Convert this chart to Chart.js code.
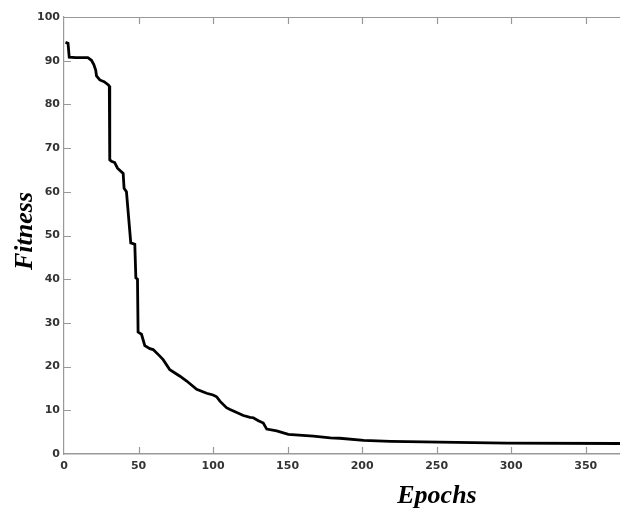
<!DOCTYPE html>
<html>
<head>
<meta charset="utf-8">
<script src="https://cdn.jsdelivr.net/npm/chart.js@4.4.1/dist/chart.umd.min.js"></script>
<style>
  html, body { margin: 0; padding: 0; background: #fff; }
  #wrap { width: 620px; height: 511px; position: relative; }
</style>
</head>
<body>
<div id="wrap"><canvas id="c" width="620" height="511"></canvas></div>
<script>
// Best fitness per training epoch (vertices of the convergence curve)
const epochs = [1, 2.7, 3.5, 8, 16, 18.4, 20, 21.3, 21.8, 24, 26.9, 29.6, 30.4, 30.7, 31.8,
  34, 35.9, 39.7, 40.3, 41.9, 44.8, 47.5, 48.2, 49.3, 49.7, 52, 54.2, 57.6, 59.8, 64.3,
  66.5, 71, 77.8, 82.3, 89, 95.7, 100, 102.4, 104.6, 109, 111.4, 115.9, 120.3, 124.8, 127,
  130.4, 133.7, 136, 142.7, 150.5, 167.3, 178.6, 185, 201, 219, 252, 297, 373];
const fitness = [94.2, 94.0, 90.8, 90.7, 90.7, 90.1, 89.1, 87.8, 86.5, 85.6, 85.2, 84.5, 84.2, 67.3, 67.0,
  66.7, 65.4, 64.2, 60.8, 60.0, 48.3, 48.0, 40.3, 40.0, 27.9, 27.4, 24.8, 24.1, 23.9, 22.4,
  21.6, 19.3, 17.8, 16.7, 14.8, 13.9, 13.5, 13.1, 12.1, 10.6, 10.2, 9.5, 8.8, 8.4, 8.3,
  7.6, 7.1, 5.7, 5.3, 4.5, 4.1, 3.7, 3.6, 3.1, 2.9, 2.7, 2.5, 2.4];

const xTicks = [0, 50, 100, 150, 200, 250, 300, 350];
const yTicks = [0, 10, 20, 30, 40, 50, 60, 70, 80, 90, 100];
const xRange = [0, 373];
const yRange = [0, 100];
const xTitle = 'Epochs';
const yTitle = 'Fitness';

const axisColor = '#999999';
const labelColor = '#333333';
const tickFont = { family: 'DejaVu Sans', weight: 'bold', size: 11 };
const titleFont = 'italic bold 26px "Liberation Serif", "DejaVu Serif", serif';

// Short tick marks pointing into the plot, plus the top frame line
const innerTicks = {
  id: 'innerTicks',
  beforeDatasetsDraw(chart) {
    const { ctx, chartArea: a, scales: { x, y } } = chart;
    const len = 7;
    ctx.save();
    ctx.strokeStyle = axisColor;
    ctx.lineWidth = 1.2;
    ctx.beginPath();
    ctx.moveTo(a.left, a.top + 0.5);
    ctx.lineTo(a.right, a.top + 0.5);
    xTicks.forEach(v => {
      if (v === xRange[0]) return;
      const px = Math.round(x.getPixelForValue(v)) + 0.5;
      ctx.moveTo(px, a.bottom);
      ctx.lineTo(px, a.bottom - len);
      ctx.moveTo(px, a.top);
      ctx.lineTo(px, a.top + len);
    });
    yTicks.forEach(v => {
      if (v === yRange[0] || v === yRange[1]) return;
      const py = Math.round(y.getPixelForValue(v)) + 0.5;
      ctx.moveTo(a.left, py);
      ctx.lineTo(a.left + len, py);
    });
    ctx.stroke();
    ctx.restore();
  }
};

// Axis titles in bold italic serif
const axisTitles = {
  id: 'axisTitles',
  afterDraw(chart) {
    const { ctx } = chart;
    ctx.save();
    ctx.fillStyle = '#000';
    ctx.font = titleFont;
    ctx.textAlign = 'center';
    ctx.textBaseline = 'alphabetic';
    ctx.fillText(xTitle, 437, 503);
    ctx.translate(32, 231);
    ctx.rotate(-Math.PI / 2);
    ctx.fillText(yTitle, 0, 0);
    ctx.restore();
  }
};

new Chart(document.getElementById('c'), {
  type: 'line',
  data: {
    datasets: [{
      data: epochs.map((e, i) => ({ x: e, y: fitness[i] })),
      borderColor: '#000',
      borderWidth: 2.8,
      pointRadius: 0,
      tension: 0,
      fill: false
    }]
  },
  options: {
    responsive: false,
    animation: false,
    devicePixelRatio: 1,
    layout: { padding: { top: 17, right: 0, bottom: 0, left: 0 } },
    plugins: { legend: { display: false }, tooltip: { enabled: false } },
    scales: {
      x: {
        type: 'linear',
        min: xRange[0],
        max: xRange[1],
        afterBuildTicks: s => { s.ticks = xTicks.map(v => ({ value: v })); },
        afterFit: s => { s.height = 57; },
        ticks: { font: tickFont, color: labelColor, padding: 6, maxRotation: 0, autoSkip: false },
        grid: { display: true, drawOnChartArea: false, drawTicks: false },
        border: { display: true, color: axisColor, width: 1.6 }
      },
      y: {
        min: yRange[0],
        max: yRange[1],
        afterBuildTicks: s => { s.ticks = yTicks.map(v => ({ value: v })); },
        afterFit: s => { s.width = 64; },
        ticks: { font: tickFont, color: labelColor, padding: 4, autoSkip: false },
        grid: { display: true, drawOnChartArea: false, drawTicks: false },
        border: { display: true, color: axisColor, width: 1.2 }
      }
    }
  },
  plugins: [innerTicks, axisTitles]
});
</script>
</body>
</html>
